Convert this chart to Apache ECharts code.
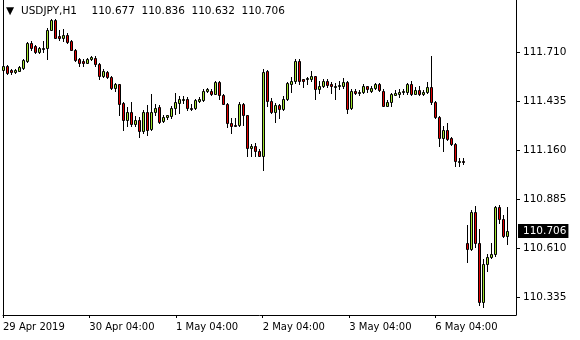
<!DOCTYPE html>
<html><head><meta charset="utf-8">
<script src="https://cdn.jsdelivr.net/npm/echarts@6/dist/echarts.min.js"></script>
<style>html,body{margin:0;padding:0;background:#fff}#c{width:580px;height:340px}</style>
</head><body><div id="c"></div>
<script>
const open = [111.609,111.635,111.609,111.600,111.606,111.622,111.660,111.759,111.742,111.712,111.729,111.735,111.837,111.890,111.800,111.792,111.804,111.772,111.725,111.669,111.663,111.651,111.669,111.679,111.641,111.579,111.600,111.572,111.510,111.529,111.426,111.328,111.376,111.308,111.327,111.269,111.376,111.278,111.376,111.404,111.323,111.347,111.351,111.398,111.426,111.441,111.449,111.398,111.398,111.435,111.441,111.495,111.495,111.477,111.544,111.467,111.422,111.314,111.301,111.300,111.417,111.356,111.170,111.185,111.158,111.129,111.607,111.437,111.376,111.411,111.392,111.445,111.533,111.547,111.663,111.557,111.557,111.559,111.574,111.505,111.523,111.546,111.533,111.521,111.519,111.521,111.540,111.398,111.493,111.482,111.489,111.521,111.493,111.510,111.530,111.493,111.409,111.432,111.471,111.474,111.488,111.486,111.530,111.474,111.499,111.474,111.486,111.512,111.433,111.347,111.230,111.276,111.226,111.196,111.098,111.098,110.642,110.604,110.816,110.640,110.309,110.524,110.562,110.576,110.842,110.775,110.677];
const close = [111.635,111.594,111.598,111.609,111.626,111.665,111.759,111.735,111.712,111.735,111.735,111.837,111.890,111.791,111.789,111.804,111.766,111.725,111.665,111.647,111.647,111.673,111.684,111.641,111.579,111.603,111.570,111.510,111.529,111.420,111.328,111.376,111.308,111.327,111.269,111.376,111.276,111.376,111.398,111.319,111.347,111.355,111.398,111.432,111.445,111.449,111.398,111.396,111.439,111.450,111.495,111.501,111.477,111.544,111.467,111.420,111.314,111.295,111.299,111.417,111.356,111.174,111.185,111.157,111.130,111.600,111.437,111.377,111.411,111.392,111.450,111.536,111.550,111.663,111.550,111.550,111.564,111.574,111.505,111.523,111.546,111.525,111.519,111.522,111.527,111.540,111.392,111.493,111.482,111.488,111.521,111.502,111.510,111.530,111.499,111.409,111.433,111.473,111.480,111.489,111.493,111.530,111.474,111.499,111.474,111.489,111.512,111.429,111.345,111.230,111.276,111.224,111.194,111.098,111.100,111.093,110.604,110.816,110.640,110.309,110.524,110.562,110.576,110.842,110.775,110.677,110.706];
const low = [111.606,111.590,111.590,111.593,111.602,111.618,111.654,111.725,111.707,111.708,111.710,111.673,111.833,111.787,111.781,111.772,111.763,111.721,111.660,111.635,111.635,111.647,111.665,111.635,111.561,111.572,111.566,111.501,111.491,111.360,111.276,111.295,111.295,111.295,111.233,111.259,111.248,111.276,111.360,111.314,111.316,111.336,111.342,111.364,111.370,111.426,111.388,111.383,111.394,111.429,111.435,111.489,111.471,111.473,111.449,111.417,111.289,111.258,111.295,111.295,111.304,111.126,111.126,111.126,111.126,111.048,111.407,111.370,111.317,111.342,111.388,111.441,111.486,111.538,111.529,111.516,111.529,111.547,111.445,111.482,111.516,111.516,111.482,111.449,111.501,111.510,111.370,111.392,111.473,111.467,111.482,111.486,111.489,111.505,111.491,111.407,111.407,111.407,111.467,111.460,111.477,111.474,111.467,111.473,111.471,111.471,111.482,111.417,111.338,111.183,111.154,111.216,111.190,111.070,111.070,111.080,110.532,110.602,110.618,110.289,110.281,110.481,110.556,110.569,110.749,110.672,110.632];
const high = [111.641,111.639,111.613,111.613,111.631,111.669,111.766,111.772,111.748,111.739,111.772,111.847,111.897,111.894,111.837,111.841,111.819,111.781,111.729,111.679,111.673,111.680,111.691,111.688,111.651,111.613,111.603,111.579,111.538,111.534,111.428,111.400,111.429,111.351,111.344,111.388,111.413,111.473,111.417,111.413,111.355,111.360,111.407,111.482,111.463,111.463,111.456,111.417,111.445,111.460,111.505,111.508,111.501,111.547,111.551,111.473,111.426,111.338,111.342,111.429,111.426,111.360,111.192,111.202,111.164,111.617,111.610,111.454,111.426,111.417,111.463,111.542,111.572,111.669,111.669,111.561,111.572,111.607,111.576,111.547,111.561,111.557,111.542,111.538,111.547,111.566,111.551,111.505,111.505,111.497,111.530,111.523,111.519,111.538,111.538,111.501,111.441,111.482,111.497,111.505,111.505,111.538,111.546,111.514,111.523,111.497,111.542,111.688,111.437,111.351,111.295,111.310,111.235,111.202,111.117,111.117,110.743,110.827,110.846,110.715,110.551,110.580,110.640,110.846,110.854,110.794,110.840];

const yTicks = [110.335, 110.610, 110.885, 111.160, 111.435, 111.710];
const xTickPos = [-0.125, 21.45, 43.12, 64.8, 86.45, 107.95];
const xTickLabels = ['29 Apr 2019', '30 Apr 04:00', '1 May 04:00', '2 May 04:00', '3 May 04:00', '6 May 04:00'];
const symbolName = 'USDJPY,H1';
const headerValues = ['110.677', '110.836', '110.632', '110.706'];
const lastPrice = 110.706;

const FONT = 'DejaVu Sans';
const FS = 10.5;
const BULL = '#9ee22c', BEAR = '#e00000';
const Y_MIN = 110.238, Y_MAX = 112.0057;
const X_MIN = -0.125, X_MAX = 128.125;

const data = open.map((o, i) => [i, o, close[i], low[i], high[i]]);

const snap = (v) => Math.round(v - 0.5) + 0.5;

function renderCandle(params, api) {
  const i = api.value(0), o = api.value(1), c = api.value(2), l = api.value(3), h = api.value(4);
  const pO = api.coord([i, o]), pC = api.coord([i, c]), pL = api.coord([i, l]), pH = api.coord([i, h]);
  const xm = snap(pO[0]);
  const yt = snap(Math.min(pO[1], pC[1]));
  let yb = snap(Math.max(pO[1], pC[1]));
  if (yb - yt < 1) yb = yt + 1;
  return {
    type: 'group',
    children: [
      {type: 'line', shape: {x1: xm, y1: snap(pH[1]) - 0.5, x2: xm, y2: snap(pL[1]) + 0.5},
       style: {stroke: '#000', lineWidth: 1}},
      {type: 'rect', shape: {x: xm - 1, y: yt, width: 2, height: yb - yt},
       style: {fill: c >= o ? BULL : BEAR, stroke: '#000', lineWidth: 1}}
    ]
  };
}

const chart = echarts.init(document.getElementById('c'), null, {renderer: 'canvas'});
chart.setOption({
  animation: false,
  backgroundColor: '#ffffff',
  title: {
    text: '{t|▼}{s|' + symbolName + '}' + headerValues.map(v => '{v|' + v + '}').join(''),
    left: 6, top: 6, padding: 0,
    textStyle: {
      fontFamily: FONT, fontSize: FS, fontWeight: 'normal', color: '#000',
      rich: {
        t: {fontFamily: FONT, fontSize: FS, color: '#000', width: 15},
        s: {fontFamily: FONT, fontSize: FS, color: '#000', width: 70.5},
        v: {fontFamily: FONT, fontSize: FS, color: '#000', width: 50}
      }
    }
  },
  grid: {left: 2, top: 0, width: 514, height: 315},
  xAxis: [{
    type: 'value', min: X_MIN, max: X_MAX,
    axisLine: {show: true, onZero: false, lineStyle: {color: '#000', width: 1}},
    splitLine: {show: false},
    axisTick: {show: true, customValues: xTickPos, length: 3, lineStyle: {color: '#000'}},
    axisLabel: {
      show: true, customValues: xTickPos, align: 'left', margin: 7,
      fontFamily: FONT, fontSize: 10, color: '#000',
      formatter: (v) => {
        const k = xTickPos.findIndex(p => Math.abs(p - v) < 1e-6);
        return k >= 0 ? xTickLabels[k] : '';
      }
    }
  }],
  yAxis: [{
    type: 'value', position: 'right', min: Y_MIN, max: Y_MAX,
    axisLine: {show: true, onZero: false, lineStyle: {color: '#000', width: 1}},
    splitLine: {show: false},
    axisTick: {show: true, customValues: yTicks, length: 4, lineStyle: {color: '#000'}},
    axisLabel: {
      show: true, customValues: yTicks, margin: 7,
      fontFamily: FONT, fontSize: FS, color: '#000',
      formatter: (v) => v.toFixed(3)
    }
  }, {
    type: 'value', position: 'left', min: Y_MIN, max: Y_MAX,
    axisLine: {show: true, onZero: false, lineStyle: {color: '#000', width: 1}},
    splitLine: {show: false}, axisTick: {show: false}, axisLabel: {show: false}
  }],
  series: [{
    type: 'custom',
    xAxisIndex: 0, yAxisIndex: 0,
    data: data,
    encode: {x: 0, y: [3, 4]},
    renderItem: renderCandle,
    clip: false,
    silent: true,
    markLine: {
      silent: true, symbol: 'none', animation: false,
      lineStyle: {color: 'rgba(0,0,0,0)', width: 1},
      label: {
        show: true, position: 'end', distance: 2,
        formatter: () => lastPrice.toFixed(3),
        backgroundColor: '#000', color: '#fff', padding: [2, 2, 1, 5],
        fontFamily: FONT, fontSize: FS
      },
      data: [{yAxis: lastPrice}]
    }
  }]
});
</script>
</body></html>
